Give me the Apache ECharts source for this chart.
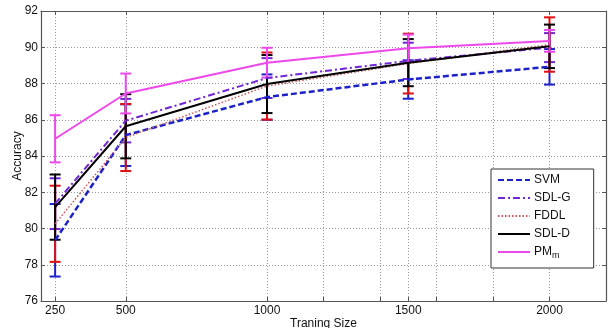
<!DOCTYPE html>
<html>
<head>
<meta charset="utf-8">
<script src="https://cdn.jsdelivr.net/npm/echarts@6/dist/echarts.min.js"></script>
<style>
  html, body { margin: 0; padding: 0; background: #fff; }
  #chart { width: 613px; height: 328px; }
</style>
</head>
<body>
<div id="chart"></div>
<script>
// training sizes and tick positions
const sizes = [250, 500, 1000, 1500, 2000];
const xLabelTicks = [250, 500, 1000, 1500, 2000];
const xGridTicks = [250, 500, 1000, 1200, 1400, 1500, 1600, 1800, 2000];

// mean accuracy and error (half height of bar) per method
const svmMean = [79.35, 85.15, 87.25, 88.22, 88.92];
const svmErr = [2.0, 1.7, 1.25, 1.06, 0.98];
const sdlgMean = [81.37, 85.95, 88.3, 89.25, 89.98];
const sdlgErr = [1.4, 1.2, 1.1, 1.0, 0.8];
const fddlMean = [80.26, 85.02, 87.86, 89.1, 90.15];
const fddlErr = [2.1, 1.85, 1.85, 1.65, 1.5];
const sdldMean = [81.18, 85.64, 87.97, 89.15, 90.05];
const sdldErr = [1.8, 1.77, 1.6, 1.3, 1.2];
const pmMean = [84.95, 87.45, 89.15, 89.95, 90.35];
const pmErr = [1.3, 1.1, 0.82, 0.75, 0.6];

const FONT = 'Liberation Sans, Arial, sans-serif';

const methods = [
  { name: 'SVM', mean: svmMean, err: svmErr, color: '#1c22c8', barColor: '#1c22c8', width: 2.5, type: [6, 3] },
  { name: 'SDL-G', mean: sdlgMean, err: sdlgErr, color: '#7026d6', barColor: '#7026d6', width: 2, type: [7, 3, 2, 3] },
  { name: 'FDDL', mean: fddlMean, err: fddlErr, color: '#c85a5a', barColor: '#e01010', width: 1.5, type: [1.5, 2] },
  { name: 'SDL-D', mean: sdldMean, err: sdldErr, color: '#000000', barColor: '#000000', width: 2, type: 'solid' },
  { name: 'PM', mean: pmMean, err: pmErr, color: '#ee48ea', barColor: '#ee48ea', width: 2, type: 'solid' },
];

// error bar: vertical stem + two caps
function errorBarItem(color) {
  return function (params, api) {
    const x = api.value(0);
    const lo = api.coord([x, api.value(1)]);
    const hi = api.coord([x, api.value(2)]);
    const half = 5.5;
    const style = { stroke: color, lineWidth: 2 };
    return {
      type: 'group',
      children: [
        { type: 'line', shape: { x1: lo[0], y1: lo[1], x2: hi[0], y2: hi[1] }, style: style },
        { type: 'line', shape: { x1: lo[0] - half, y1: lo[1], x2: lo[0] + half, y2: lo[1] }, style: style },
        { type: 'line', shape: { x1: hi[0] - half, y1: hi[1], x2: hi[0] + half, y2: hi[1] }, style: style },
      ],
    };
  };
}

const series = [];
methods.forEach(function (m, i) {
  series.push({
    name: m.name + '_err',
    type: 'custom',
    renderItem: errorBarItem(m.barColor),
    data: sizes.map(function (s, k) { return [s, m.mean[k] - m.err[k], m.mean[k] + m.err[k]]; }),
    encode: { x: 0, y: [1, 2] },
    z: 2 + i,
    silent: true,
  });
});
methods.forEach(function (m, i) {
  series.push({
    name: m.name,
    type: 'line',
    data: sizes.map(function (s, k) { return [s, m.mean[k]]; }),
    symbol: 'none',
    color: m.color,
    lineStyle: { color: m.color, width: m.width, type: m.type },
    z: 10 + i,
  });
});

const axisLineStyle = { color: '#555', width: 1.2 };

const option = {
  backgroundColor: '#fff',
  animation: false,
  textStyle: { fontFamily: FONT },
  grid: { left: 41, right: 7, top: 11, bottom: 27, containLabel: false, outerBoundsMode: 'none' },
  legend: {
    data: methods.map(function (m) { return m.name; }),
    orient: 'vertical',
    left: 491,
    top: 169,
    backgroundColor: '#fff',
    borderColor: '#333',
    borderWidth: 1,
    borderRadius: 0,
    padding: [5, 23, 8, 6],
    itemWidth: 32,
    itemHeight: 12,
    itemGap: 6,
    itemStyle: { opacity: 0 },
    textStyle: {
      fontFamily: FONT,
      fontSize: 12,
      color: '#111',
      padding: [0, 0, 0, -1],
      rich: {
        sub: { fontSize: 9, fontFamily: FONT, color: '#111', padding: [7, 0, 0, 0] },
      },
    },
    formatter: function (name) {
      return name === 'PM' ? 'PM{sub|m}' : name;
    },
  },
  xAxis: [
    {
      type: 'value',
      min: 200,
      max: 2200,
      position: 'bottom',
      name: 'Traning Size',
      nameLocation: 'middle',
      nameGap: 17,
      nameMoveOverlap: false,
      nameTextStyle: { fontFamily: FONT, fontSize: 12, color: '#111', verticalAlign: 'top' },
      axisLine: { lineStyle: axisLineStyle },
      axisTick: { inside: true, length: 4, customValues: xGridTicks, lineStyle: { color: '#555' } },
      axisLabel: {
        customValues: xLabelTicks,
        formatter: function (v) { return String(v); },
        fontFamily: FONT, fontSize: 12, color: '#111', margin: 4,
      },
      splitLine: { show: true, lineStyle: { type: [1, 2], color: '#999' } },
    },
    {
      type: 'value',
      min: 200,
      max: 2200,
      position: 'top',
      axisLine: { lineStyle: axisLineStyle },
      axisTick: { inside: true, length: 4, customValues: xGridTicks, lineStyle: { color: '#555' } },
      axisLabel: { show: false },
      splitLine: { show: false },
    },
  ],
  yAxis: [
    {
      type: 'value',
      min: 76,
      max: 92,
      interval: 2,
      position: 'left',
      name: 'Accuracy',
      nameLocation: 'middle',
      nameGap: 17,
      nameMoveOverlap: false,
      nameRotate: 90,
      nameTextStyle: { fontFamily: FONT, fontSize: 12, color: '#111' },
      axisLine: { show: true, lineStyle: axisLineStyle },
      axisTick: { show: true, inside: true, length: 4, lineStyle: { color: '#555' } },
      axisLabel: { fontFamily: FONT, fontSize: 12, color: '#111', margin: 3 },
      splitLine: { show: true, lineStyle: { type: [1, 2], color: '#999' } },
    },
    {
      type: 'value',
      min: 76,
      max: 92,
      interval: 2,
      position: 'right',
      axisLine: { show: true, lineStyle: axisLineStyle },
      axisTick: { show: true, inside: true, length: 4, lineStyle: { color: '#555' } },
      axisLabel: { show: false },
      splitLine: { show: false },
    },
  ],
  series: series,
};

const chart = echarts.init(document.getElementById('chart'), null, { renderer: 'canvas' });
chart.setOption(option);
</script>
</body>
</html>
